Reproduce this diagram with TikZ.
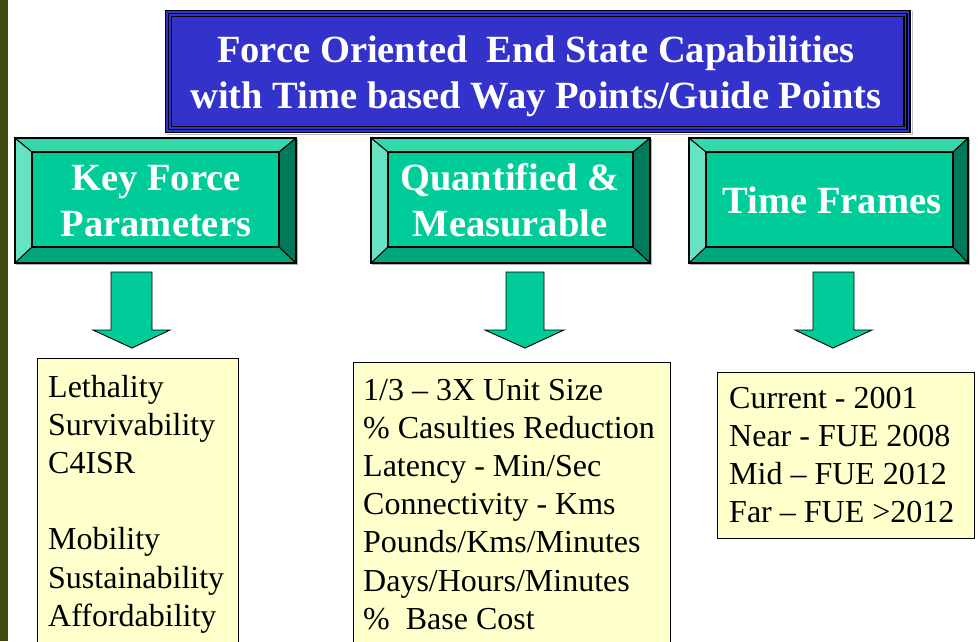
\documentclass[tikz,border=0pt]{standalone}
\usepackage{fontspec}
\setmainfont{Liberation Serif}
\definecolor{olive}{HTML}{3E4C0E}
\definecolor{titleblue}{HTML}{3333CC}
\definecolor{face}{HTML}{00CC99}
\definecolor{bevtop}{HTML}{33D9AA}
\definecolor{bevleft}{HTML}{66E3C2}
\definecolor{bevright}{HTML}{007A5A}
\definecolor{bevbot}{HTML}{00A67D}
\definecolor{note}{HTML}{FFFFCC}
\tikzset{
  bevline/.style={draw=black, line width=1.1pt, line join=miter},
  headtext/.style={text=white, font=\fontsize{38.5}{46.5}\selectfont\bfseries, inner sep=0pt, anchor=base},
  notetext/.style={text=black, font=\fontsize{32}{38.2}\selectfont, inner sep=0pt, anchor=base west},
  notebox/.style={draw=black, line width=1pt, fill=note},
  downarrow/.style={draw=black, line width=0.9pt, fill=face, line join=miter},
}
\newcommand{\bevelbox}[9]{%
  % #1 name, outer x1,y1,x2,y2 = #2..#5, inner x1,y1,x2,y2 = #6..#9
  \fill[bevtop] (#2,#3) -- (#4,#3) -- (#8,#7) -- (#6,#7) -- cycle;
  \fill[bevleft] (#2,#3) -- (#6,#7) -- (#6,#9) -- (#2,#5) -- cycle;
  \fill[bevright] (#4,#3) -- (#4,#5) -- (#8,#9) -- (#8,#7) -- cycle;
  \fill[bevbot] (#2,#5) -- (#4,#5) -- (#8,#9) -- (#6,#9) -- cycle;
  \fill[face] (#6,#7) rectangle (#8,#9);
  \draw[gray!60, line width=1pt] (#2+1,#5+1.5) -- (#4+1.5,#5+1.5) -- (#4+1.5,#3+1);
  \draw[bevline] (#2,#3) rectangle (#4,#5);
  \draw[bevline] (#6,#7) rectangle (#8,#9);
  \draw[bevline] (#2,#3) -- (#6,#7) (#4,#3) -- (#8,#7) (#2,#5) -- (#6,#9) (#4,#5) -- (#8,#9);
  \coordinate (#1) at ({(#6+#8)/2},{(#7+#9)/2});
}
\begin{document}
\begin{tikzpicture}[x=1pt, y=-1pt]
\useasboundingbox (0,0) rectangle (980,641);
\clip (0,0) rectangle (980,641);
% left strip
\fill[olive] (0,0) rectangle (8,641);
% title frame
\draw[gray!50, line width=1pt] (166,134.5) -- (912.5,134.5) -- (912.5,11);
\fill[black] (164.5,9.5) rectangle (910.5,133);
\fill[titleblue] (166,11) rectangle (909,131.5);
\fill[black] (167.5,12.5) rectangle (907.5,130);
\fill[titleblue] (169,14) rectangle (906,128.5);
\fill[black] (170.5,15.5) rectangle (904.5,127);
\fill[titleblue] (172,17) rectangle (903,125.5);
\node[headtext] (title) at (536,62) {\begin{tabular}[t]{@{}c@{}}Force Oriented\ \ End State Capabilities\\with Time based Way Points/Guide Points\end{tabular}};
% green beveled boxes
\bevelbox{kfp}{15}{138}{296}{263}{32}{152}{279}{247}
\bevelbox{qm}{371}{138}{650}{263}{388}{152}{633}{247}
\bevelbox{tf}{689}{138}{968}{263}{706}{152}{953}{247}
\node[headtext] (kfptext) at (156,190) {\begin{tabular}[t]{@{}c@{}}Key Force\\Parameters\end{tabular}};
\node[headtext] (qmtext) at (510,190) {\begin{tabular}[t]{@{}c@{}}Quantified \&\\Measurable\end{tabular}};
\node[headtext] (tftext) at (832,213) {Time Frames};
% arrows
\draw[downarrow] (111,272) -- (152,272) -- (152,330) -- (170,330) -- (132,348) -- (93,330) -- (111,330) -- cycle;
\draw[downarrow] (506,272) -- (544,272) -- (544,330) -- (564,330) -- (525,348) -- (485,330) -- (506,330) -- cycle;
\draw[downarrow] (813,272) -- (854,272) -- (854,330) -- (872,330) -- (833,348) -- (795,330) -- (813,330) -- cycle;
% note boxes
\draw[notebox] (37,358) rectangle (238,660);
\draw[notebox] (353,362) rectangle (670,660);
\draw[notebox] (717,372) rectangle (974,538);
\node[notetext] (kfplist) at (48,397) {\begin{tabular}[t]{@{}l@{}}Lethality\\Survivability\\C4ISR\\ \\Mobility\\Sustainability\\Affordability\end{tabular}};
\node[notetext] (qmlist) at (363,400) {\begin{tabular}[t]{@{}l@{}}1/3 – 3X Unit Size\\\% Casulties Reduction\\Latency - Min/Sec\\Connectivity - Kms\\Pounds/Kms/Minutes\\Days/Hours/Minutes\\\%\ \ Base Cost\end{tabular}};
\node[notetext] (tflist) at (729,408) {\begin{tabular}[t]{@{}l@{}}Current - 2001\\Near - FUE 2008\\Mid – FUE 2012\\Far – FUE >2012\end{tabular}};
\end{tikzpicture}
\end{document}
